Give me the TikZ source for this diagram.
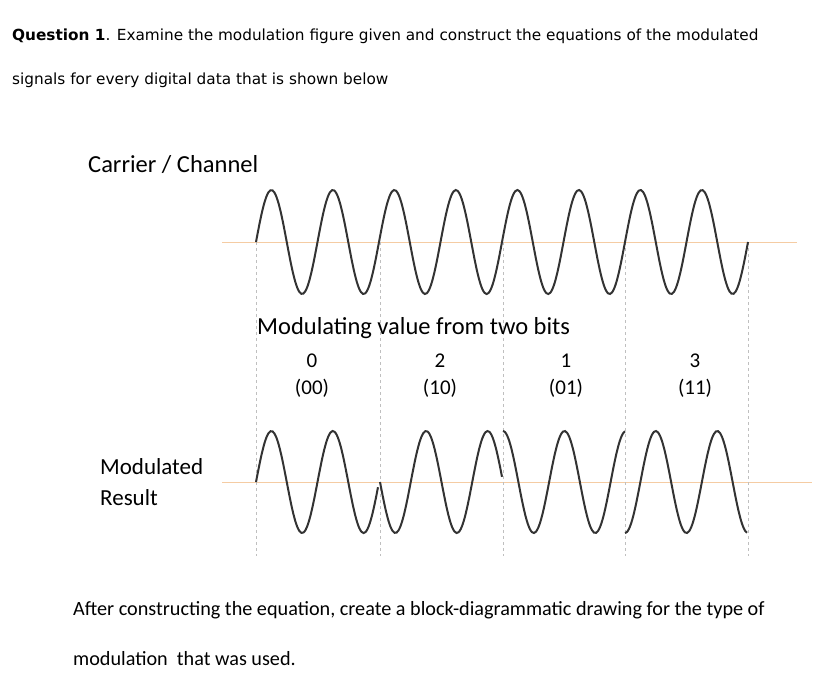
\documentclass[tikz,border=0pt]{standalone}
\usepackage{fontspec}
\setmainfont{Carlito}
\newfontfamily\verd{DejaVu Sans}
\tikzset{
  wave/.style={line width=2pt, black!80, smooth, samples=60},
  axis/.style={draw=brown!40!orange!40, line width=1pt},
  guide/.style={draw=black!25, dashed, line width=1pt},
  lbl/.style={font=\fontsize{24.5}{28}\selectfont, inner sep=0pt},
  num/.style={font=\fontsize{21}{24}\selectfont, inner sep=0pt},
  hdr/.style={font=\verd\fontsize{15.3}{18}\selectfont, anchor=west, inner sep=0pt},
  body/.style={font=\fontsize{20.2}{24}\selectfont, anchor=west, inner sep=0pt}
}
\begin{document}
\begin{tikzpicture}[x=1pt, y=-1pt]
  \useasboundingbox (0,0) rectangle (813,689);

  % header and footer text
  \node (q1)   [hdr] at (12,36) {\textbf{Question 1}. Examine the modulation figure given and construct the equations of the modulated};
  \node (q2)   [hdr] at (12,80) {signals for every digital data that is shown below};
  \node (foot1) [body] at (73,610) {After constructing the equation, create a block-diagrammatic drawing for the type of};
  \node (foot2) [body] at (73,659) {modulation\ \ that was used.};

  % baselines and guides
  \draw [axis] (222,242) -- (797,242);
  \draw [axis] (222,482) -- (812,482);
  \foreach \gx in {256,380,503,625,748}
    \draw [guide] (\gx,242) -- (\gx,556);

  % carrier
  \draw [wave, samples=240, domain=0:492] plot ({256+\x},{242-52*sin(5.8537*\x)});

  % modulated result, one phase per symbol
  \foreach \sx/\ph in {256/0, 380/180, 503/90, 625/270}
    \draw [wave, domain=0:122] plot ({\sx+\x},{482-51*sin(5.8537*\x+\ph)});

  % labels
  \node (carrier) [lbl, anchor=west] at (88,165) {Carrier / Channel};
  \node (modval)  [lbl, anchor=west] at (257,328) {Modulating value from two bits};
  \foreach \cx/\v/\b in {312/0/00, 440/2/10, 566/1/01, 695/3/11} {
    \node (v\b) [num] at (\cx,361) {\v};
    \node (b\b) [num] at (\cx,388) {(\b)};
  }
  \node (modres) [lbl, anchor=west, align=left, font=\fontsize{23}{31}\selectfont] at (100,482) {Modulated\\Result};
\end{tikzpicture}
\end{document}
